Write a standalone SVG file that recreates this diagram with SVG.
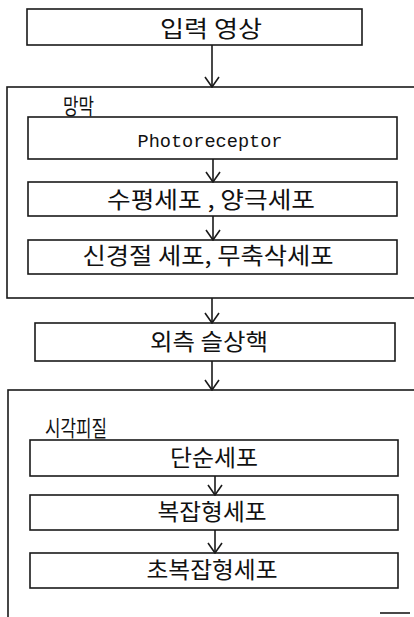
<svg xmlns="http://www.w3.org/2000/svg" width="414" height="617" viewBox="0 0 414 617">
<style>
.box{fill:#fff;stroke:#1a1a1a;stroke-width:1.6}
.frame{fill:none;stroke:#1a1a1a;stroke-width:1.6}
.t{font-family:"Noto Sans CJK KR","Noto Sans",sans-serif;font-size:23px;fill:#111;text-anchor:middle}
.tl{font-family:"Noto Sans CJK KR","Noto Sans",sans-serif;font-size:22px;fill:#111}
.m{font-family:"Liberation Mono","DejaVu Sans Mono",monospace;font-size:19px;fill:#111;text-anchor:middle}
.c{stroke:#1a1a1a;stroke-width:1.6;fill:none}
</style>
<defs>
<marker id="ah" viewBox="0 0 12 16" refX="11" refY="8" markerWidth="12" markerHeight="16" markerUnits="userSpaceOnUse" orient="auto">
<path d="M1,1 L11,8 L1,15" fill="none" stroke="#1a1a1a" stroke-width="1.6"/>
</marker>
</defs>
<rect width="414" height="617" fill="#fff"/>

<g id="retina">
<rect class="frame" x="7" y="87" width="430" height="211"/>
<text class="tl" x="63" y="114" textLength="31" lengthAdjust="spacingAndGlyphs">망막</text>
</g>
<g id="cortex">
<rect class="frame" x="8" y="390" width="430" height="260"/>
<text class="tl" x="45" y="436" textLength="62" lengthAdjust="spacingAndGlyphs">시각피질</text>
<line class="c" x1="380" y1="613" x2="410" y2="613"/>
</g>

<g id="input">
<rect class="box" x="27" y="9" width="335" height="36"/>
<text class="t" x="211" y="37" textLength="102" lengthAdjust="spacingAndGlyphs">입력 영상</text>
</g>
<g id="photoreceptor">
<rect class="box" x="28" y="117" width="369" height="42"/>
<text class="m" x="210" y="147" textLength="145" lengthAdjust="spacingAndGlyphs">Photoreceptor</text>
</g>
<g id="horizontal-bipolar">
<rect class="box" x="28" y="182" width="369" height="34"/>
<text class="t" x="211" y="208" textLength="208" lengthAdjust="spacingAndGlyphs">수평세포 , 양극세포</text>
</g>
<g id="ganglion-amacrine">
<rect class="box" x="28" y="240" width="369" height="34"/>
<text class="t" x="208" y="264" textLength="251" lengthAdjust="spacingAndGlyphs">신경절 세포, 무축삭세포</text>
</g>
<g id="lgn">
<rect class="box" x="35" y="323" width="360" height="38"/>
<text class="t" x="209" y="350" textLength="118" lengthAdjust="spacingAndGlyphs">외측 슬상핵</text>
</g>
<g id="simple">
<rect class="box" x="30" y="440" width="368" height="36"/>
<text class="t" x="214" y="466" textLength="88" lengthAdjust="spacingAndGlyphs">단순세포</text>
</g>
<g id="complex">
<rect class="box" x="30" y="495" width="368" height="35"/>
<text class="t" x="212" y="520" textLength="109" lengthAdjust="spacingAndGlyphs">복잡형세포</text>
</g>
<g id="hypercomplex">
<rect class="box" x="30" y="553" width="368" height="35"/>
<text class="t" x="212" y="578" textLength="131" lengthAdjust="spacingAndGlyphs">초복잡형세포</text>
</g>

<g id="connectors">
<line class="c" x1="212" y1="45" x2="212" y2="87" marker-end="url(#ah)"/>
<line class="c" x1="213" y1="159" x2="213" y2="182" marker-end="url(#ah)"/>
<line class="c" x1="213" y1="216" x2="213" y2="240" marker-end="url(#ah)"/>
<line class="c" x1="212" y1="298" x2="212" y2="323" marker-end="url(#ah)"/>
<line class="c" x1="212" y1="361" x2="212" y2="390" marker-end="url(#ah)"/>
<line class="c" x1="215" y1="476" x2="215" y2="495" marker-end="url(#ah)"/>
<line class="c" x1="215" y1="530" x2="215" y2="553" marker-end="url(#ah)"/>
</g>
</svg>
